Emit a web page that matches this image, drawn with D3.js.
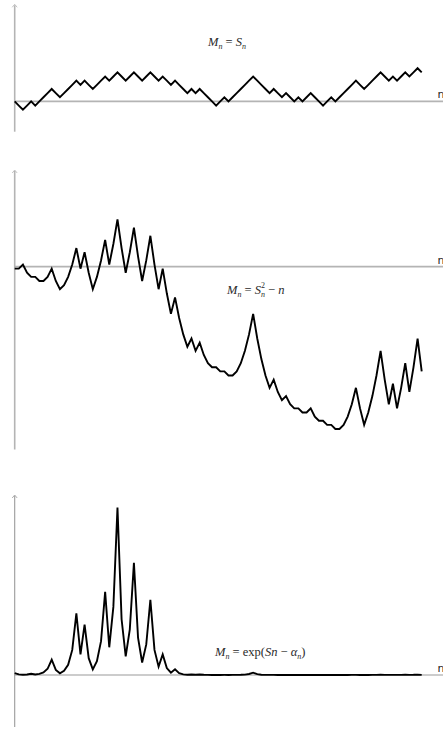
<!DOCTYPE html>
<html>
<head>
<meta charset="utf-8">
<script src="https://cdn.jsdelivr.net/npm/d3@7"></script>
<style>
    html, body { margin: 0; padding: 0; background: #fff; }
    svg { display: block; }
    .formula { font-family: "Liberation Serif", "DejaVu Serif", serif; font-style: italic; font-size: 12.5px; fill: #2a2a2a; }
    .formula .up { font-style: normal; }
    .axis-label { font-family: "DejaVu Sans", sans-serif; font-size: 11px; fill: #222; }
</style>
</head>
<body>
<svg id="chart" width="443" height="730"></svg>
<script>
// Step index n = 0..99
const steps = d3.range(0, 100);

// Random walk S_n
const walk = [
    0, -1, -2, -1, 0, -1, 0, 1, 2, 3,
    2, 1, 2, 3, 4, 5, 4, 5, 4, 3,
    4, 5, 6, 5, 6, 7, 6, 5, 6, 7,
    6, 5, 6, 7, 6, 5, 6, 5, 4, 5,
    4, 3, 2, 3, 2, 3, 2, 1, 0, -1,
    0, 1, 0, 1, 2, 3, 4, 5, 6, 5,
    4, 3, 2, 3, 2, 1, 2, 1, 0, 1,
    0, 1, 2, 1, 0, -1, 0, 1, 0, 1,
    2, 3, 4, 5, 4, 3, 4, 5, 6, 7,
    6, 5, 6, 5, 6, 7, 6, 7, 8, 7
];

// Middle panel: S_n^2 - n
const squareMart = [
    0, 0, 2, -2, -4, -4, -6, -6, -4, 0,
    -6, -10, -8, -4, 2, 10, 0, 8, -2, -10,
    -4, 4, 14, 2, 12, 24, 10, -2, 8, 20,
    6, -6, 4, 16, 2, -10, 0, -12, -22, -14,
    -24, -32, -38, -34, -40, -36, -42, -46, -48, -48,
    -50, -50, -52, -52, -50, -46, -40, -32, -22, -34,
    -44, -52, -58, -54, -60, -64, -62, -66, -68, -68,
    -70, -70, -68, -72, -74, -74, -76, -76, -78, -78,
    -76, -72, -66, -58, -68, -76, -70, -62, -52, -40,
    -54, -66, -56, -68, -58, -46, -60, -48, -34, -50
];

// Bottom panel: exponential martingale
const expMart = [
    1.00, 0.33, 0.11, 0.27, 0.67, 0.22, 0.55, 1.35, 3.32, 8.17,
    2.72, 0.90, 2.23, 5.47, 13.46, 33.12, 11.02, 27.11, 9.03, 3.00,
    7.39, 18.17, 44.70, 14.88, 36.60, 90.02, 29.96, 9.97, 24.53, 60.34,
    20.09, 6.69, 16.44, 40.45, 13.46, 4.48, 11.02, 3.67, 1.22, 3.00,
    1.00, 0.33, 0.11, 0.27, 0.09, 0.22, 0.07, 0.025, 0.008, 0.003,
    0.007, 0.017, 0.006, 0.014, 0.033, 0.082, 0.20, 0.50, 1.22, 0.41,
    0.135, 0.045, 0.015, 0.037, 0.012, 0.004, 0.010, 0.003, 0.001, 0.003,
    0.001, 0.002, 0.006, 0.002, 0.001, 0.0, 0.001, 0.001, 0.0, 0.001,
    0.002, 0.006, 0.015, 0.037, 0.012, 0.004, 0.010, 0.025, 0.061, 0.150,
    0.050, 0.017, 0.041, 0.014, 0.033, 0.082, 0.027, 0.067, 0.165, 0.055
];

const svg = d3.select("#chart");
const width = 443;

const x = d3.scaleLinear().domain([0, 99]).range([14.7, 421.7]);

// one entry per panel: vertical extent of its y axis and the data
const panels = [
    { values: walk, domain: [-7.3, 23.4], range: [131.7, 4.3], axisAt: 0, label: "p1" },
    { values: squareMart, domain: [-88, 48], range: [449.5, 170], axisAt: 1, label: "p2" },
    { values: expMart, domain: [-28, 96.8], range: [727, 495], axisAt: 0, label: "p3" }
];

const line = d3.line();

panels.forEach((p, i) => {
    const y = d3.scaleLinear().domain(p.domain).range(p.range);
    const g = svg.append("g").attr("class", p.label);
    const axisColor = i === 2 ? "#9a9a9a" : "#b4b4b4";
    const axisWidth = i === 2 ? 1.1 : 1.6;

    // vertical axis with a small arrow tip
    g.append("line")
        .attr("x1", x(0)).attr("x2", x(0))
        .attr("y1", p.range[1] + 1).attr("y2", p.range[0])
        .attr("stroke", axisColor).attr("stroke-width", axisWidth);
    g.append("path")
        .attr("d", `M${x(0) - 2.5},${p.range[1] + 3} L${x(0)},${p.range[1]} L${x(0) + 2.5},${p.range[1] + 3}`)
        .attr("fill", "none").attr("stroke", axisColor).attr("stroke-width", 0.8);

    // horizontal axis (the middle one sits a touch above zero)
    const y0 = y(0) - p.axisAt * 2;
    g.append("line")
        .attr("x1", x(0)).attr("x2", width)
        .attr("y1", y0).attr("y2", y0)
        .attr("stroke", axisColor).attr("stroke-width", axisWidth);

    g.append("text")
        .attr("class", "axis-label")
        .attr("x", 437.5).attr("y", y0 - 3)
        .text("n");

    g.append("path")
        .datum(steps)
        .attr("d", line.x(n => x(n)).y(n => y(p.values[n])))
        .attr("fill", "none")
        .attr("stroke", "#000")
        .attr("stroke-width", 1.9)
        .attr("stroke-linejoin", "miter");
});

// formula labels; each part: [text, shift (+down/-up), upright, small, dx]
function formula(xPos, yPos, parts) {
    const t = svg.append("text").attr("class", "formula").attr("x", xPos).attr("y", yPos);
    parts.forEach(([txt, shift, up, small, dx]) => {
        const s = t.append("tspan").text(txt).attr("y", yPos + (shift || 0));
        if (up) s.attr("class", "up");
        if (small) s.attr("font-size", 8);
        if (dx) s.attr("dx", dx);
    });
}

formula(208, 46, [["M"], ["n", 2.5, false, true], [" = ", 0, true], ["S"], ["n", 2.5, false, true]]);
formula(227, 294, [["M"], ["n", 2.5, false, true], [" = ", 0, true], ["S"], ["n", 3, false, true],
    ["2", -6, true, true, -4.1], [" − ", 0, true], ["n"]]);
formula(215, 656, [["M"], ["n", 2.5, false, true], [" = exp(", 0, true], ["Sn"], [" − ", 0, true],
    ["α"], ["n", 2.5, false, true], [")", 0, true]]);
</script>
</body>
</html>
